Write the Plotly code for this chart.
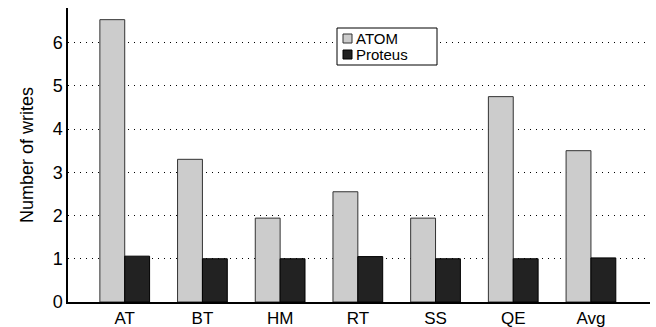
import plotly.graph_objects as go

categories = ["AT", "BT", "HM", "RT", "SS", "QE", "Avg"]
atom = [6.53, 3.30, 1.94, 2.55, 1.94, 4.75, 3.50]
proteus = [1.06, 1.00, 1.00, 1.05, 1.00, 1.00, 1.02]
series_names = ["ATOM", "Proteus"]
fills = ["#cccccc", "#222222"]
outlines = ["#333333", "#000000"]

fig = go.Figure()
for name, vals, fc, lc in zip(series_names, [atom, proteus], fills, outlines):
    fig.add_trace(go.Bar(x=categories, y=vals, name=name, showlegend=False,
                         marker=dict(color=fc, line=dict(color=lc, width=1))))

# custom legend (box, swatches, labels) in paper coordinates
L, R, T, B = 68, 650, 8, 302
def px(x): return (x - L) / (R - L)
def py(y): return (B - y) / (B - T)

fig.add_shape(type="rect", xref="paper", yref="paper",
              x0=px(337), x1=px(437), y0=py(65), y1=py(28),
              line=dict(color="#000000", width=1), fillcolor="white", layer="above")
for i, (name, fc, lc) in enumerate(zip(series_names, fills, outlines)):
    yc = 38.5 + 16 * i
    fig.add_shape(type="rect", xref="paper", yref="paper",
                  x0=px(343), x1=px(352), y0=py(yc + 4.5), y1=py(yc - 4.5),
                  line=dict(color=lc, width=1), fillcolor=fc, layer="above")
    fig.add_annotation(xref="paper", yref="paper", x=px(355), y=py(yc),
                       xanchor="left", yanchor="middle", text=name, showarrow=False,
                       font=dict(size=15), borderpad=0)

fig.update_layout(
    width=656, height=327,
    margin=dict(l=L, r=656 - R, t=T, b=327 - B),
    plot_bgcolor="white", paper_bgcolor="white",
    font=dict(family="Liberation Sans", size=17, color="#000000"),
    barmode="group", bargap=0.36, bargroupgap=0,
    xaxis=dict(range=[-0.73, 6.76], showline=True, linecolor="#000000", linewidth=1.5,
               ticks="", showgrid=False, tickfont=dict(size=17), automargin=False),
    yaxis=dict(range=[0, 6.8], showline=True, linecolor="#000000", linewidth=1.5,
               tickvals=[0, 1, 2, 3, 4, 5, 6], ticks="", showgrid=True,
               gridcolor="#000000", griddash="1px,5px", gridwidth=1, zeroline=False,
               title=dict(text="Number of writes", font=dict(size=18), standoff=14),
               tickfont=dict(size=18), automargin=False),
)

fig.write_html("out.html")
